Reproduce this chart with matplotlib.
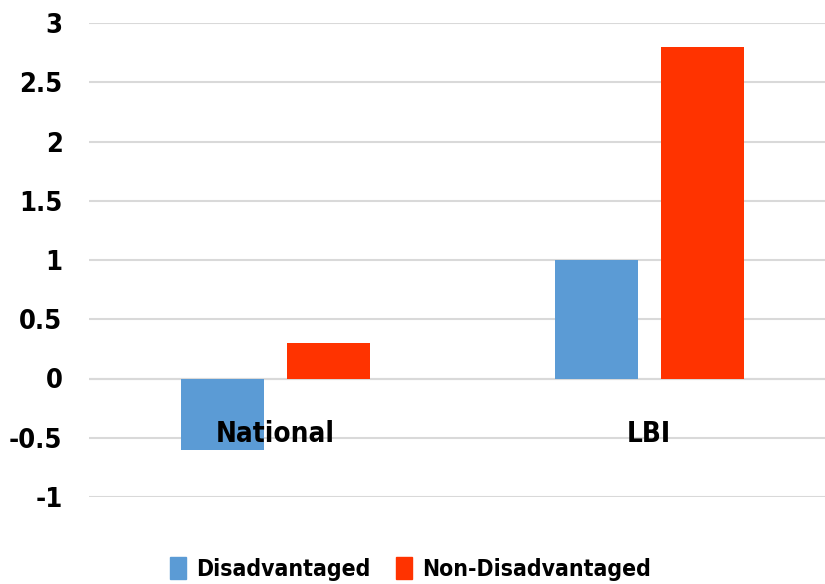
import matplotlib
matplotlib.use("Agg")
import matplotlib.pyplot as plt
from matplotlib.patches import Patch
from matplotlib import font_manager as fm
import numpy as np

categories = ["National", "LBI"]
series_names = ["Disadvantaged", "Non-Disadvantaged"]
disadvantaged = [-0.6, 1.0]
non_disadvantaged = [0.3, 2.8]
yticks = [-1, -0.5, 0, 0.5, 1, 1.5, 2, 2.5, 3]
ytick_labels = ["-1", "-0.5", "0", "0.5", "1", "1.5", "2", "2.5", "3"]

colors = ["#5B9BD5", "#FF3300"]

# pick a narrow bold font if one is installed
def pick_font():
    cond = {"ultra-condensed", "extra-condensed", "condensed", "semi-condensed"}
    best = None
    for f in fm.fontManager.ttflist:
        st = str(f.stretch)
        narrow = (st in cond) or ("Narrow" in f.name) or ("Condensed" in f.name)
        if not narrow:
            continue
        w = f.weight if isinstance(f.weight, int) else {"bold": 700, "normal": 400}.get(str(f.weight), 400)
        if f.style != "normal":
            continue
        score = -abs(w - 700)
        if best is None or score > best[0]:
            best = (score, f.fname, f.name)
    if best is not None:
        return best[1], best[2]
    return None, None

fpath, fname = pick_font()
if fpath:
    def FP(size):
        return fm.FontProperties(fname=fpath, size=size)
    SCALE = 1.0
else:
    def FP(size):
        return fm.FontProperties(family=["Lato", "DejaVu Sans"], weight="bold", size=size)
    SCALE = 0.92

TICK_SIZE = 19.5 * SCALE
CAT_SIZE = 20 * SCALE
LEG_SIZE = 16.5 * SCALE

fig = plt.figure(figsize=(8.25, 5.84), dpi=100)
ax = fig.add_axes([89 / 825, 87 / 584, (825 - 89) / 825, 474 / 584])

x = np.arange(len(categories))
w = 0.222
off = 0.1417
ax.bar(x - off, disadvantaged, w, color=colors[0], zorder=3)
ax.bar(x + off, non_disadvantaged, w, color=colors[1], zorder=3)

ax.set_xlim(-0.4987, 1.4706)
ax.set_ylim(-1, 3)
ax.set_yticks(yticks)
ax.set_yticklabels(ytick_labels, fontproperties=FP(TICK_SIZE))
ax.tick_params(axis="y", length=0, pad=19)
ax.set_xticks([])
ax.yaxis.grid(True, color="#D9D9D9", linewidth=1.5, zorder=0)
for s in ax.spines.values():
    s.set_visible(False)
ax.axhline(0, color="#D9D9D9", linewidth=1.5, zorder=2)

for i, c in enumerate(categories):
    ax.text(x[i], -0.54, c, ha="center", va="baseline",
            fontproperties=FP(CAT_SIZE), zorder=4)

handles = [Patch(color=colors[0]), Patch(color=colors[1])]
fig.legend(handles, series_names, loc="lower center", bbox_to_anchor=(0.498, -0.03),
           ncol=2, frameon=False, handlelength=0.7, handleheight=1.05,
           handletextpad=0.45, columnspacing=1.1, prop=FP(LEG_SIZE))

fig.savefig("out.png", dpi=100)
